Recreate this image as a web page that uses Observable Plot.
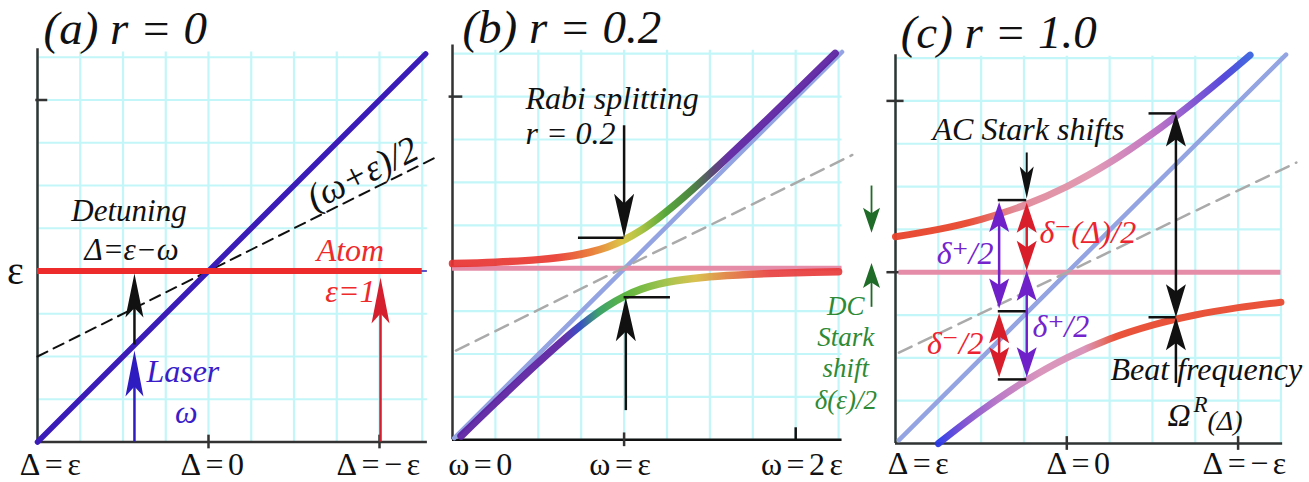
<!DOCTYPE html>
<html><head><meta charset="utf-8">
<script src="https://cdn.jsdelivr.net/npm/d3@7"></script>
<script src="https://cdn.jsdelivr.net/npm/@observablehq/plot@0.6"></script>
<style>
body{margin:0;background:#fff;}
#wrap{position:relative;width:1309px;height:482px;overflow:hidden;background:#fff;}
#wrap svg{position:absolute;left:0;top:0;overflow:visible;}
#wrap svg text{font-family:"Liberation Serif","Times New Roman","DejaVu Serif",serif;}
</style></head><body><div id="wrap"></div>
<script>
// ---------- data ----------
const GRID = [0, 0.25, 0.5, 0.75, 1, 1.25, 1.5, 1.75, 2, 2.25];

// panel (a) r = 0
const aTickX = [0.088, 1.035, 2.006];
const aTickLabels = ["Δ=ε", "Δ=0", "Δ=−ε"];
const aLaserX = [0, 2.27], aLaserY = [0, 2.27];
const aMeanX = [0, 2.32], aMeanY = [0.5, 1.66];
const aAtomLevel = 1;
const aArrowsBlack = [{x: 0.567, from: 0.567, to: 0.985}];
const aArrowsLaser = [{x: 0.567, from: 0, to: 0.535}];
const aArrowsAtom = [{x: 2.006, from: 0, to: 0.962}];

// panel (b) r = 0.2
const bTickX = [0.175, 0.99, 2.05];
const bTickLabels = ["ω=0", "ω=ε", "ω=2ε"];
const bUpperX = [0, 0.25, 0.5, 0.7, 0.8, 0.9, 1.0, 1.1, 1.2, 1.3, 1.5, 1.75, 2.0, 2.23];
const bUpperY = [1.027, 1.035, 1.05, 1.073, 1.093, 1.122, 1.165, 1.222, 1.293, 1.373, 1.55, 1.785, 2.027, 2.252];
const bLowerX = [0.05, 0.25, 0.5, 0.7, 0.8, 0.9, 1.0, 1.1, 1.2, 1.3, 1.5, 1.75, 2.0, 2.25];
const bLowerY = [0.022, 0.215, 0.45, 0.627, 0.707, 0.778, 0.835, 0.878, 0.907, 0.927, 0.95, 0.965, 0.974, 0.979];
const bLaserX = [0.01, 2.27], bLaserY = [0.01, 2.26];
const bMeanX = [0.02, 2.33], bMeanY = [0.52, 1.66];
const bArrows = [{x: 1.0, from: 1.83, to: 1.177}, {x: 1.01, from: 0.17, to: 0.831}];
const bBars = [{x1: 0.734, x2: 1.0, y: 1.177}, {x1: 1.0, x2: 1.27, y: 0.831}];

// panel (c) r = 1.0
const cTickX = [0.146, 1.08, 2.05];
const cTickLabels = ["Δ=ε", "Δ=0", "Δ=−ε"];
const cUpperX = [0, 0.25, 0.5, 0.75, 1.0, 1.25, 1.5, 1.75, 2.0, 2.07];
const cUpperY = [1.207, 1.25, 1.309, 1.39, 1.5, 1.64, 1.809, 2.0, 2.207, 2.267];
const cLowerX = [0.25, 0.5, 0.75, 1.0, 1.25, 1.5, 1.75, 2.0, 2.25];
const cLowerY = [0.0, 0.191, 0.36, 0.5, 0.61, 0.691, 0.75, 0.793, 0.825];
const cLaserX = [0.02, 2.28], cLaserY = [0.02, 2.27];
const cMeanX = [0.02, 2.34], cMeanY = [0.53, 1.64];
const cPurpleArrows = [{x: 0.605, from: 0.788, to: 1.41, both: true}, {x: 0.766, from: 0.387, to: 1.008, both: true}];
const cRedArrows = [{x: 0.766, from: 1.008, to: 1.405, both: true}, {x: 0.605, from: 0.387, to: 0.761, both: true}];
const cBars = [{x1: 0.6, x2: 0.766, y: 1.421}, {x1: 0.6, x2: 0.766, y: 0.772}, {x1: 0.6, x2: 0.766, y: 0.374},
               {x1: 1.48, x2: 1.637, y: 1.927}, {x1: 1.48, x2: 1.637, y: 0.737}];
const cStarkArrow = [{x: 0.766, from: 1.696, to: 1.43}];
const cBeatArrows = [{x: 1.637, from: 0.737, to: 1.927, both: true}, {x: 1.637, from: 0.35, to: 0.737}];
const cDCArrows = [{x: -0.14, from: 1.503, to: 1.23}, {x: -0.14, from: 0.795, to: 1.053}];

// texts
const titles = [{t: "(a) r = 0", x: 0.035, y: 2.33}, {t: "(b) r = 0.2", x: 0.058, y: 2.31}, {t: "(c) r = 1.0", x: 0.03, y: 2.306}];
const aNotes = [{t: "Detuning", x: 0.535, y: 1.295}, {t: "Δ=ε−ω", x: 0.55, y: 1.067}];
const aAtomNotes = [{t: "Atom", x: 1.83, y: 1.061}, {t: "ε=1", x: 1.83, y: 0.816}];
const aLaserNotes = [{t: "Laser", x: 0.85, y: 0.348}, {t: "ω", x: 0.87, y: 0.114}];
const aMeanNote = [{t: "(ω+ε)/2", x: 1.90, y: 1.57}];
const aYLabel = [{t: "ε", x: -0.13, y: 1}];
const bNotes = [{t: "Rabi splitting", x: 0.425, y: 1.93}, {t: "r = 0.2", x: 0.425, y: 1.722}];
const cNotes = [{t: "AC Stark shifts", x: 0.216, y: 1.769}, {t: "Beat frequency", x: 1.255, y: 0.368}];
const cPurpleEnd = [{t: "δ⁺/2", x: 0.572, y: 1.05}];
const cPurpleStart = [{t: "δ⁺/2", x: 0.80, y: 0.619}];
const cRedStart = [{t: "δ⁻(Δ)/2", x: 0.84, y: 1.168}];
const cRedEnd = [{t: "δ⁻/2", x: 0.514, y: 0.525}];
const cOmega = [{t: "Ω", x: 1.588, y: 0.105}];
const cOmegaSup = [{t: "R", x: 1.74, y: 0.181}];
const cOmegaArg = [{t: "(Δ)", x: 1.821, y: 0.076}];
const cDC = [{t: "DC", x: -0.29, y: 0.80}, {t: "Stark", x: -0.29, y: 0.62}, {t: "shift", x: -0.29, y: 0.44}, {t: "δ(ε)/2", x: -0.29, y: 0.25}];

// ---------- styles ----------
const SERIF = "Liberation Serif, Times New Roman, DejaVu Serif, serif";
const GRIDC = "#c3f6f8", AXISC = "#333";
const BLUE = "#3a1cb8", RED = "#ee2b2b";
const PALEBLUE = "#94a4e2", PINK = "#e48ca8";
const PURPLE = "#6f20c9", CRED = "#d91e2b";
const GREEN = "#1f6b28", GREENT = "#2f8a35";

const bUpperStops = [[0, "#e83232"], [0.6, "#e83a30"], [0.82, "#e8782e"], [0.99, "#d9c23a"], [1.09, "#a8c034"], [1.24, "#4aa02a"], [1.4, "#3f7a32"], [1.52, "#4e3a6a"], [1.61, "#5a1ea0"], [2.25, "#5a1ea0"]];
const bLowerStops = [[0.05, "#5a1ea0"], [0.64, "#5a1ea0"], [0.74, "#2a40c0"], [0.85, "#2e9a60"], [1.01, "#52b030"], [1.26, "#a2c040"], [1.42, "#d6bc40"], [1.6, "#e08040"], [1.85, "#e84040"], [2.25, "#e83a3a"]];
const cUpperStops = [[0, "#e8422a"], [0.42, "#e8462c"], [0.72, "#e08898"], [1.15, "#e096b0"], [1.5, "#c070c0"], [1.72, "#8452d0"], [1.92, "#4c40d8"], [2.07, "#3a62e0"]];
const cLowerStops = [[0.25, "#2838e8"], [0.4, "#7a4cd0"], [0.6, "#b874c4"], [0.85, "#d890b8"], [1.1, "#d890b8"], [1.2, "#e07070"], [1.28, "#e84a30"], [2.25, "#e84a30"]];

// ---------- helpers ----------
function head(len, w, dir) {
  const s = dir === "up" ? 1 : -1;
  return {draw(ctx) {
    ctx.moveTo(0, 0); ctx.lineTo(w / 2, s * len); ctx.lineTo(0, s * len * 0.78); ctx.lineTo(-w / 2, s * len); ctx.closePath();
  }};
}
function arrowMarks(list, color, len, w, sw) {
  const sh = 0.07;
  const sg = d => Math.sign(d.to - d.from);
  return [
    Plot.ruleX(list, {x: "x", y1: d => d.both ? d.from + sh * sg(d) : d.from, y2: d => d.to - sh * sg(d), stroke: color, strokeWidth: sw}),
    Plot.dot(list.filter(d => d.to > d.from), {x: "x", y: "to", symbol: head(len, w, "up"), fill: color, stroke: "none"}),
    Plot.dot(list.filter(d => d.to < d.from), {x: "x", y: "to", symbol: head(len, w, "down"), fill: color, stroke: "none"}),
    Plot.dot(list.filter(d => d.both && d.to > d.from), {x: "x", y: "from", symbol: head(len, w, "down"), fill: color, stroke: "none"}),
    Plot.dot(list.filter(d => d.both && d.to < d.from), {x: "x", y: "from", symbol: head(len, w, "up"), fill: color, stroke: "none"})
  ];
}
function gridMarks(ext) {
  return [
    Plot.ruleX(GRID, {x: d => d, y1: 0, y2: ext, stroke: GRIDC, strokeWidth: 2.2}),
    Plot.ruleY(GRID, {y: d => d, x1: 0, x2: ext, stroke: GRIDC, strokeWidth: 2.2})
  ];
}
function tickLabels(xs, labels, y) {
  return Plot.text(labels, {x: (d, i) => xs[i], y: () => y, text: d => d, fontFamily: SERIF, fontSize: 32, lineAnchor: "bottom", textAnchor: "middle", fill: "#111"});
}
function txt(list, o) {
  return Plot.text(list, {x: "x", y: "y", text: "t", fontFamily: SERIF, fontStyle: "italic", lineAnchor: "bottom", ...o});
}
function makePlot(x0, ux, y0, uy, marks) {
  return Plot.plot({
    width: 1309, height: 482, margin: 0,
    x: {domain: [0, 1], range: [x0, x0 + ux], axis: null},
    y: {domain: [0, 1], range: [y0, y0 - uy], axis: null},
    style: {background: "transparent", overflow: "visible"},
    marks
  });
}
function applyGradient(svg, ph, id, stops, xs) {
  const ns = "http://www.w3.org/2000/svg";
  const defs = document.createElementNS(ns, "defs");
  const g = document.createElementNS(ns, "linearGradient");
  g.setAttribute("id", id);
  g.setAttribute("x1", "0"); g.setAttribute("x2", "1"); g.setAttribute("y1", "0"); g.setAttribute("y2", "0");
  const lo = xs[0], hi = xs[xs.length - 1];
  for (const [sx, c] of stops) {
    const st = document.createElementNS(ns, "stop");
    st.setAttribute("offset", Math.max(0, Math.min(1, (sx - lo) / (hi - lo))));
    st.setAttribute("stop-color", c);
    g.appendChild(st);
  }
  defs.appendChild(g);
  svg.insertBefore(defs, svg.firstChild);
  svg.querySelectorAll(`[stroke="${ph}"]`).forEach(el => el.setAttribute("stroke", `url(#${id})`));
}
function spaceLabels(svg, labels) {
  svg.querySelectorAll("text").forEach(t => {
    if (labels.includes(t.textContent)) t.setAttribute("letter-spacing", "4.5");
  });
}

const wrap = document.getElementById("wrap");

// ---------- panel (a) ----------
const svgA = makePlot(37, 171, 441.5, 171, [
  ...gridMarks(2.28),
  Plot.ruleX([0], {y1: 0, y2: 2.3, stroke: AXISC, strokeWidth: 2.5}),
  Plot.ruleY([0], {x1: 0, x2: 2.28, stroke: AXISC, strokeWidth: 2.5}),
  Plot.ruleX([1, 2], {y1: -0.04, y2: 0.04, stroke: AXISC, strokeWidth: 2.5}),
  Plot.ruleY([2], {x1: -0.01, x2: 0.06, stroke: AXISC, strokeWidth: 2.5}),
  Plot.line(aMeanX, {x: aMeanX, y: aMeanY, stroke: "#111", strokeWidth: 2, strokeDasharray: "11,7"}),
  Plot.ruleY([aAtomLevel], {x1: 1, x2: 2.28, stroke: BLUE, strokeWidth: 1.5}),
  Plot.line(aLaserX, {x: aLaserX, y: aLaserY, stroke: BLUE, strokeWidth: 5.5}),
  Plot.ruleY([aAtomLevel], {x1: 0, x2: 2.25, stroke: RED, strokeWidth: 6}),
  ...arrowMarks(aArrowsBlack, "#111", 44, 18, 2.5),
  ...arrowMarks(aArrowsLaser, "#2f1cc0", 46, 18, 2.5),
  ...arrowMarks(aArrowsAtom, "#d61f2e", 46, 18, 2.5),
  txt(titles.slice(0, 1), {fontSize: 47, textAnchor: "start", fill: "#111"}),
  txt(aNotes, {fontSize: 31, textAnchor: "middle", fill: "#111"}),
  txt(aAtomNotes, {fontSize: 32, textAnchor: "middle", fill: RED}),
  txt(aLaserNotes, {fontSize: 32, textAnchor: "middle", fill: "#3a1cc8"}),
  txt(aMeanNote, {fontSize: 37, textAnchor: "middle", lineAnchor: "middle", rotate: -26.57, fill: "#111"}),
  Plot.text(aYLabel, {x: "x", y: "y", text: "t", fontFamily: SERIF, fontSize: 40, lineAnchor: "middle", textAnchor: "middle", fill: "#111"}),
  tickLabels(aTickX, aTickLabels, -0.195)
]);
spaceLabels(svgA, aTickLabels);

// ---------- panel (b) ----------
const svgB = makePlot(452, 171.6, 439.3, 171.6, [
  ...gridMarks(2.27),
  Plot.ruleX([0], {y1: 0, y2: 2.3, stroke: AXISC, strokeWidth: 2.5}),
  Plot.ruleY([0], {x1: 0, x2: 2.27, stroke: "#111", strokeWidth: 2.5}),
  Plot.ruleX([1], {y1: -0.04, y2: 0.04, stroke: AXISC, strokeWidth: 2.5}),
  Plot.ruleX([2], {y1: -0.01, y2: 0.07, stroke: "#111", strokeWidth: 2.5}),
  Plot.ruleY([2], {x1: -0.02, x2: 0.06, stroke: AXISC, strokeWidth: 2.5}),
  Plot.line(bLaserX, {x: bLaserX, y: bLaserY, stroke: PALEBLUE, strokeWidth: 4.5}),
  Plot.ruleY([1], {x1: 0, x2: 2.27, stroke: PINK, strokeWidth: 5}),
  Plot.line(bMeanX, {x: bMeanX, y: bMeanY, stroke: "#aaa", strokeWidth: 2.5, strokeDasharray: "14,8"}),
  Plot.line(bUpperX, {x: bUpperX, y: bUpperY, stroke: "#010101", strokeWidth: 7.5, curve: "catmull-rom", strokeOpacity: 0.92}),
  Plot.line(bLowerX, {x: bLowerX, y: bLowerY, stroke: "#020202", strokeWidth: 7.5, curve: "catmull-rom", strokeOpacity: 0.92}),
  Plot.ruleY(bBars, {y: "y", x1: "x1", x2: "x2", stroke: "#111", strokeWidth: 2.5}),
  ...arrowMarks(bArrows, "#111", 44, 20, 2.5),
  txt(titles.slice(1, 2), {fontSize: 47, textAnchor: "start", fill: "#111"}),
  txt(bNotes, {fontSize: 32, textAnchor: "start", fill: "#111"}),
  tickLabels(bTickX, bTickLabels, -0.205)
]);
applyGradient(svgB, "#010101", "gradBU", bUpperStops, bUpperX);
applyGradient(svgB, "#020202", "gradBL", bLowerStops, bLowerX);
spaceLabels(svgB, bTickLabels);

// ---------- panel (c) ----------
const svgC = makePlot(895, 171.3, 443, 171.3, [
  ...gridMarks(2.26),
  Plot.ruleX([0], {y1: 0, y2: 2.27, stroke: AXISC, strokeWidth: 2.5}),
  Plot.ruleY([0], {x1: 0, x2: 2.26, stroke: AXISC, strokeWidth: 2.5}),
  Plot.ruleX([1, 2], {y1: -0.04, y2: 0.04, stroke: AXISC, strokeWidth: 2.5}),
  Plot.ruleY([1, 2], {x1: -0.05, x2: 0.05, stroke: AXISC, strokeWidth: 2.5}),
  Plot.line(cLaserX, {x: cLaserX, y: cLaserY, stroke: PALEBLUE, strokeWidth: 4.5}),
  Plot.ruleY([1], {x1: 0.02, x2: 2.25, stroke: PINK, strokeWidth: 5}),
  Plot.line(cMeanX, {x: cMeanX, y: cMeanY, stroke: "#aaa", strokeWidth: 2.5, strokeDasharray: "14,8"}),
  Plot.line(cUpperX, {x: cUpperX, y: cUpperY, stroke: "#030303", strokeWidth: 7, curve: "catmull-rom", strokeOpacity: 0.95}),
  Plot.line(cLowerX, {x: cLowerX, y: cLowerY, stroke: "#040404", strokeWidth: 7, curve: "catmull-rom", strokeOpacity: 0.95}),
  Plot.ruleY(cBars, {y: "y", x1: "x1", x2: "x2", stroke: "#111", strokeWidth: 2.5}),
  ...arrowMarks(cPurpleArrows, PURPLE, 30, 20, 2.5),
  ...arrowMarks(cRedArrows, CRED, 30, 20, 2.5),
  ...arrowMarks(cStarkArrow, "#111", 32, 14, 2),
  ...arrowMarks(cBeatArrows, "#111", 33, 20, 2.5),
  ...arrowMarks(cDCArrows, GREEN, 25, 17, 1.8),
  txt(titles.slice(2, 3), {fontSize: 47, textAnchor: "start", fill: "#111"}),
  txt(cNotes, {fontSize: 32, textAnchor: "start", fill: "#111"}),
  txt(cPurpleEnd, {fontSize: 32, textAnchor: "end", fill: "#7424cc"}),
  txt(cPurpleStart, {fontSize: 32, textAnchor: "start", fill: "#7424cc"}),
  txt(cRedStart, {fontSize: 32, textAnchor: "start", fill: "#ec2430"}),
  txt(cRedEnd, {fontSize: 32, textAnchor: "end", fill: "#ec2430"}),
  txt(cOmega, {fontSize: 32, textAnchor: "start", fill: "#111"}),
  txt(cOmegaSup, {fontSize: 23, textAnchor: "start", fill: "#111"}),
  txt(cOmegaArg, {fontSize: 28, textAnchor: "start", fill: "#111"}),
  txt(cDC, {fontSize: 27, textAnchor: "middle", lineAnchor: "middle", fill: GREENT}),
  tickLabels(cTickX, cTickLabels, -0.18)
]);
applyGradient(svgC, "#030303", "gradCU", cUpperStops, cUpperX);
applyGradient(svgC, "#040404", "gradCL", cLowerStops, cLowerX);
spaceLabels(svgC, cTickLabels);

wrap.appendChild(svgA);
wrap.appendChild(svgB);
wrap.appendChild(svgC);
</script></body></html>
